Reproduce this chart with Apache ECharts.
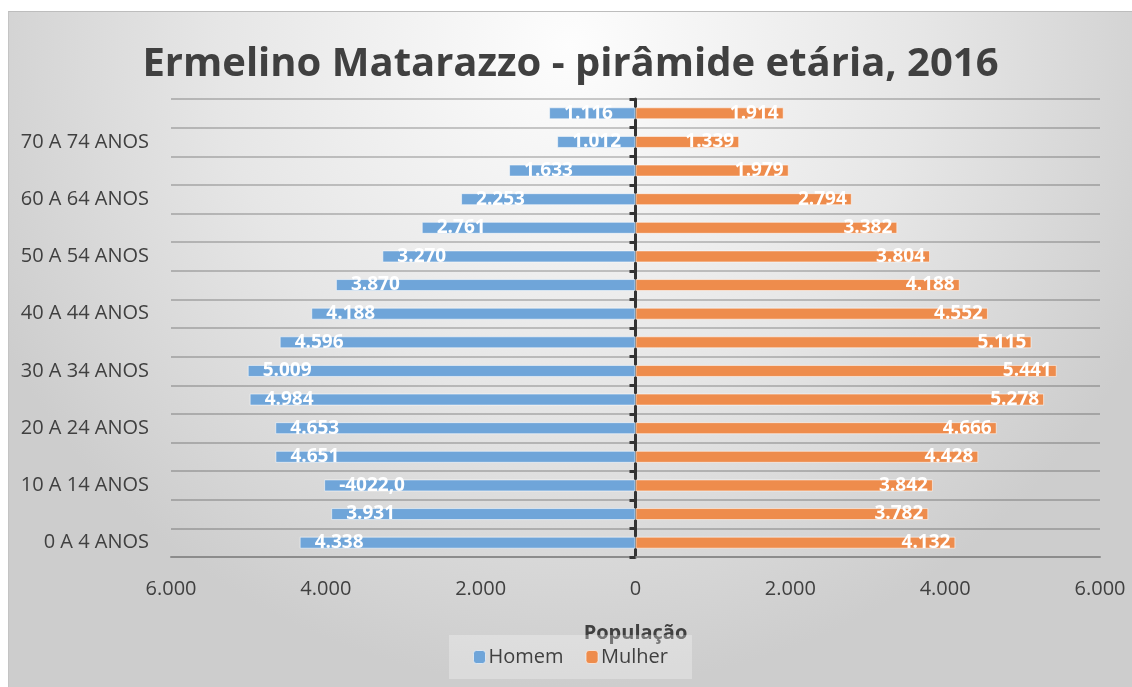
<!DOCTYPE html>
<html>
<head>
<meta charset="utf-8">
<script src="https://cdn.jsdelivr.net/npm/echarts@6/dist/echarts.min.js"></script>
<style>
html,body{margin:0;padding:0;background:#ffffff;width:1132px;height:687px;overflow:hidden;}
#chart{position:absolute;left:8px;top:11px;width:1124px;height:676px;border-top:1px solid #bdbdbd;border-left:1px solid #c4c4c4;box-sizing:border-box;}
</style>
</head>
<body>
<div id="chart"></div>
<script>
const categories = ['0 A 4 ANOS','5 A 9 ANOS','10 A 14 ANOS','15 A 19 ANOS','20 A 24 ANOS','25 A 29 ANOS','30 A 34 ANOS','35 A 39 ANOS','40 A 44 ANOS','45 A 49 ANOS','50 A 54 ANOS','55 A 59 ANOS','60 A 64 ANOS','65 A 69 ANOS','70 A 74 ANOS','75 ANOS E MAIS'];
const homem = [4338, 3931, 4022, 4651, 4653, 4984, 5009, 4596, 4188, 3870, 3270, 2761, 2253, 1633, 1012, 1116];
const mulher = [4132, 3782, 3842, 4428, 4666, 5278, 5441, 5115, 4552, 4188, 3804, 3382, 2794, 1979, 1339, 1914];
const homemLabelOverride = [null, null, '-4022,0', null, null, null, null, null, null, null, null, null, null, null, null, null];
const xTicks = [-6000, -4000, -2000, 0, 2000, 4000, 6000];

const FONT = '"Open Sans", "DejaVu Sans", sans-serif';
function fmt(v){
  v = Math.abs(Math.round(v));
  return String(v).replace(/\B(?=(\d{3})+(?!\d))/g, '.');
}

const chart = echarts.init(document.getElementById('chart'), null, {renderer:'canvas'});
chart.setOption({
  backgroundColor: {
    type: 'radial', x: 0.5, y: 0.05, r: 0.95,
    colorStops: [
      {offset: 0, color: '#fdfdfd'},
      {offset: 0.55, color: '#e6e6e6'},
      {offset: 1, color: '#cdcdcd'}
    ]
  },
  animation: false,
  title: {
    text: 'Ermelino Matarazzo - pirâmide etária, 2016',
    left: 'center', top: 28,
    textStyle: {fontFamily: FONT, fontWeight: 'bold', fontSize: 40, color: '#404040'}
  },
  legend: {
    bottom: 8, left: 'center',
    data: ['Homem', 'Mulher'],
    itemWidth: 12, itemHeight: 13, itemGap: 22,
    padding: [12, 24, 12, 24],
    backgroundColor: 'rgba(255,255,255,0.28)',
    itemStyle: {borderColor: 'rgba(255,255,255,0.6)', borderWidth: 1},
    textStyle: {fontFamily: FONT, fontSize: 20, color: '#404040', padding: [0,0,0,-2]}
  },
  grid: {left: 162, right: 32, top: 87, bottom: 130, containLabel: false},
  xAxis: {
    type: 'value', min: -6000, max: 6000, interval: 2000,
    name: 'População', nameLocation: 'middle', nameGap: 66,
    nameTextStyle: {fontFamily: FONT, fontWeight: 'bold', fontSize: 20, color: '#404040'},
    axisLine: {show: true, lineStyle: {color: '#8c8c8c', width: 2}},
    axisTick: {show: false},
    splitLine: {show: false},
    axisLabel: {
      fontFamily: FONT, fontSize: 20, color: '#404040', margin: 22,
      formatter: function(v){ return xTicks.indexOf(v) >= 0 ? fmt(v) : ''; }
    }
  },
  yAxis: [
    {
      type: 'category', data: categories, position: 'left',
      axisLine: {show: false, onZero: false},
      axisTick: {show: false},
      axisLabel: {interval: 1, fontFamily: FONT, fontSize: 20, color: '#404040', margin: 22},
      splitLine: {show: false}
    },
    {
      type: 'category', data: categories, position: 'left',
      axisLine: {show: true, onZero: true, lineStyle: {color: '#333333', width: 3}},
      axisTick: {show: true, interval: 0, length: 6, lineStyle: {color: '#333333', width: 3}},
      axisLabel: {show: false, interval: 0},
      splitLine: {show: true, interval: 0, lineStyle: {color: 'rgba(0,0,0,0.2)', width: 2}}
    }
  ],
  series: [
    {
      name: 'Homem', type: 'bar', stack: 'pop', barWidth: '42%',
      data: homem.map(v => -v),
      itemStyle: {color: '#6fa5d9', borderColor: 'rgba(255,255,255,0.55)', borderWidth: 1},
      label: {
        show: true, position: 'insideLeft', distance: 15,
        fontFamily: FONT, fontWeight: 'bold', fontSize: 19, color: '#ffffff',
        formatter: function(p){ return homemLabelOverride[p.dataIndex] || fmt(p.value); }
      }
    },
    {
      name: 'Mulher', type: 'bar', stack: 'pop', barWidth: '42%',
      data: mulher,
      itemStyle: {color: '#ee8c4c', borderColor: 'rgba(255,255,255,0.55)', borderWidth: 1},
      label: {
        show: true, position: 'insideRight', distance: 5,
        fontFamily: FONT, fontWeight: 'bold', fontSize: 19, color: '#ffffff',
        formatter: function(p){ return fmt(p.value); }
      }
    }
  ]
});
</script>
</body>
</html>
